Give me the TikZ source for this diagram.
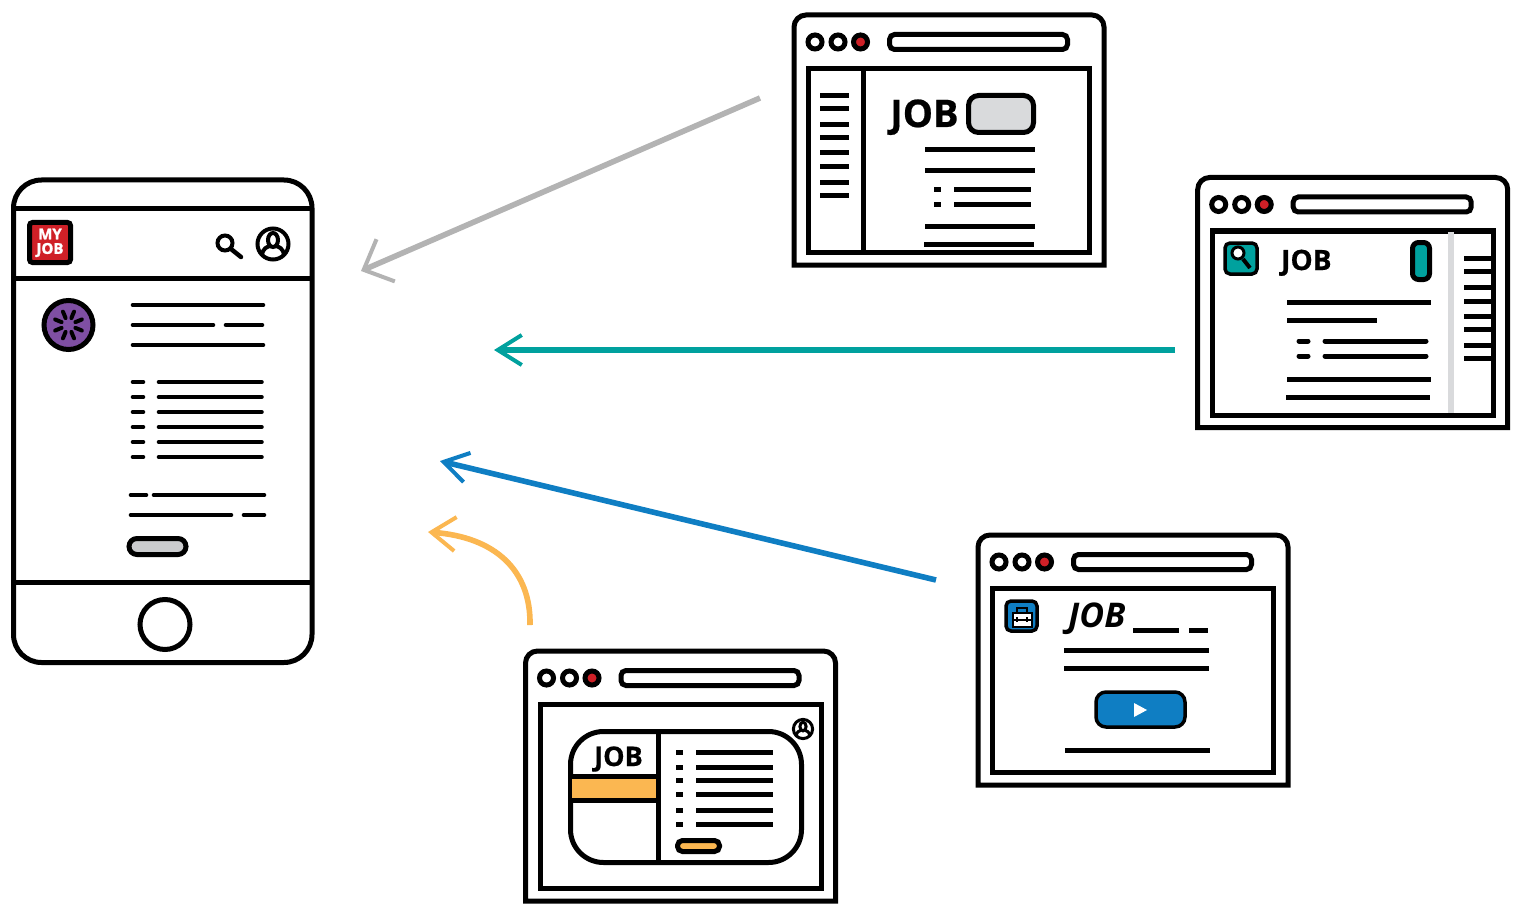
\documentclass[tikz,border=0pt]{standalone}
\usepackage{fontspec}
\setmainfont{Open Sans}[BoldFeatures={FakeBold=0.6}]
\newfontfamily\logofont{Open Sans}[BoldFeatures={FakeBold=1.6}]
\usetikzlibrary{arrows.meta}
\usetikzlibrary{calc}
\definecolor{redjob}{HTML}{CF2027}
\definecolor{greyjob}{HTML}{D9DADC}
\definecolor{greypill}{HTML}{CBCCCE}
\definecolor{greyarrow}{HTML}{B3B3B3}
\definecolor{tealjob}{HTML}{00A19E}
\definecolor{bluejob}{HTML}{0F7EC3}
\definecolor{orangejob}{HTML}{FBB751}
\definecolor{purplejob}{HTML}{7F4FA3}
\tikzset{
  frame/.style={draw=black, line width=5pt},
  thinframe/.style={draw=black, line width=3.5pt},
  txt/.style={line width=5pt},
  roundtxt/.style={line width=4.6pt, line cap=round},
  jobtext/.style={anchor=base west, inner sep=0pt, font=\bfseries\fontsize{#1}{#1}\selectfont},
  logotext/.style={inner sep=0pt, white, font=\logofont\bfseries\fontsize{15}{15}\selectfont},
  flow/.style={line width=5.6pt, -{Straight Barb[length=24pt, width=#1pt, line width=4pt]}},
  pics/browser/.style={code={
    \draw[frame, fill=white, rounded corners=12pt] (0,250) -- (0,0) -- (310,0) [sharp corners] -- (310,250) -- cycle;
    \foreach \dotx in {21, 44} \draw[black, line width=5pt, fill=white] (\dotx, 27) circle (7);
    \draw[black, line width=5pt, fill=redjob] (66.5, 27) circle (7);
    \draw[frame, rounded corners=5pt] (95.5, 19.5) rectangle (273.5, 34.5);
    \draw[frame] (14.5, 53.5) rectangle (295.5, 237.5);
  }},
  pics/avatar/.style={code={
    \draw (0, 0) circle (15.5);
    \draw (0, -4) ellipse (5 and 7);
    \draw (-11, 11) .. controls (-10, 4) and (-6, 3) .. (-3, 2);
    \draw (11, 11) .. controls (10, 4) and (6, 3) .. (3, 2);
  }}
}

\begin{document}
\begin{tikzpicture}[x=1pt, y=-1pt]
\useasboundingbox (0, 0) rectangle (1523, 912);

% phone
\draw[frame, rounded corners=28pt] (13.5, 180) rectangle (312, 662.5);
\draw[frame] (13.5, 209) -- (311.5, 209);
\draw[frame] (13.5, 278) -- (311.5, 278);
\draw[frame] (13.5, 582) -- (311.5, 582);
\draw[black, line width=5pt] (165, 624.5) circle (25);
\draw[black, fill=redjob, line width=5pt, rounded corners=3pt] (29.5, 222.5) rectangle (70.5, 262.5);
\node[logotext] (logomy) at (50, 234) {MY};
\node[logotext] (logojob) at (50, 250) {JOB};
\draw[black, line width=4pt] (225, 243) circle (7.5);
\draw[black, line width=4.5pt, line cap=round] (231, 249) -- (241, 257);
\pic[black, line width=4pt] at (273, 244) {avatar};
\draw[black, fill=purplejob, line width=5pt] (68.5, 325) circle (24.5);
\foreach \spoke in {22.5, 67.5, ..., 337.5}
  \draw[roundtxt, line width=4pt] ($(68.5, 325)+(\spoke:7.5)$) -- ($(68.5, 325)+(\spoke:14.5)$);
\draw[roundtxt] (133, 305) -- (263, 305);
\draw[roundtxt] (133, 325) -- (213, 325);
\draw[roundtxt] (226, 325) -- (262, 325);
\draw[roundtxt] (133, 345) -- (263, 345);
\foreach \rowy in {382, 397, 412, 427, 442, 457} {
  \draw[roundtxt] (133, \rowy) -- (143, \rowy);
  \draw[roundtxt] (159, \rowy) -- (261.5, \rowy);
}
\draw[roundtxt] (131, 495) -- (146, 495);
\draw[roundtxt] (154, 495) -- (264, 495);
\draw[roundtxt] (131, 515) -- (231, 515);
\draw[roundtxt] (244, 515) -- (264, 515);
\draw[frame, fill=greypill, rounded corners=8pt] (129, 538.5) rectangle (186, 554.5);

% window top
\pic at (794, 15) {browser};
\draw[frame] (863.5, 68) -- (863.5, 253);
\foreach \rowy in {96, 109, 125, 138, 153, 167, 183, 196}
  \draw[txt] (820, \rowy) -- (849, \rowy);
\node[jobtext=38] (jobtop) at (890, 127) {JOB};
\draw[frame, fill=greyjob, rounded corners=10pt] (968.5, 95.5) rectangle (1033.5, 132.5);
\draw[txt] (925, 150) -- (1035, 150);
\draw[txt] (925, 171) -- (1035, 171);
\foreach \rowy in {190, 205} {
  \draw[txt] (934, \rowy) -- (941, \rowy);
  \draw[txt] (954, \rowy) -- (1031, \rowy);
}
\draw[txt] (925, 226.5) -- (1035, 226.5);
\draw[txt] (924, 244) -- (1034, 244);

% window right
\pic at (1197.7, 177.5) {browser};
\draw[thinframe, fill=tealjob, rounded corners=5pt] (1225, 243) rectangle (1257, 274);
\draw[black, fill=white, line width=3pt] (1238, 253) circle (6);
\draw[black, line width=4pt] (1243, 259) -- (1250, 268);
\node[jobtext=28] (jobright) at (1281, 270) {JOB};
\draw[frame, fill=tealjob, rounded corners=6pt] (1412.5, 242.5) rectangle (1429.5, 279.5);
\draw[greyjob, line width=5.5pt] (1451, 232) -- (1451, 413);
\foreach \rowy in {258, 271, 287, 301, 316, 329, 345, 358}
  \draw[txt] (1464, \rowy) -- (1492, \rowy);
\draw[txt] (1287, 302) -- (1431, 302);
\draw[txt] (1287, 320) -- (1377, 320);
\foreach \rowy in {341, 356} {
  \draw[roundtxt, line width=5pt] (1299, \rowy) -- (1308, \rowy);
  \draw[roundtxt, line width=5pt] (1325, \rowy) -- (1426, \rowy);
}
\draw[txt] (1287, 379) -- (1431, 379);
\draw[txt] (1286, 397) -- (1430, 397);

% window video
\pic at (978, 535) {browser};
\draw[thinframe, fill=bluejob, rounded corners=5pt] (1006, 601) rectangle (1037, 631);
\draw[black, line width=2pt] (1017, 612) -- (1017, 608) -- (1027, 608) -- (1027, 612);
\draw[black, fill=white, line width=2pt] (1012.5, 612.5) rectangle (1031.5, 626.5);
\draw[black, line width=2pt] (1012.5, 619.5) -- (1031.5, 619.5);
\draw[black, line width=2pt] (1017, 617) -- (1017, 622);
\draw[black, line width=2pt] (1027, 617) -- (1027, 622);
\node[jobtext=34, font=\bfseries\itshape\fontsize{34}{34}\selectfont] (jobvideo) at (1068, 627) {JOB};
\draw[txt] (1133, 630.5) -- (1179, 630.5);
\draw[txt] (1189, 630.5) -- (1208, 630.5);
\draw[txt] (1064, 650) -- (1209, 650);
\draw[txt] (1064, 668) -- (1209, 668);
\draw[thinframe, fill=bluejob, rounded corners=10pt] (1096, 692) rectangle (1185, 727);
\fill[white] (1134, 703) -- (1147, 710) -- (1134, 717) -- cycle;
\draw[txt] (1065, 750) -- (1210, 750);

% window account
\pic at (525.5, 651) {browser};
\pic[black, line width=3pt, scale=0.62] at (803, 729) {avatar};
\draw[frame, rounded corners=33pt] (570.5, 731.5) rectangle (801.5, 862.5);
\fill[orangejob] (572, 777) rectangle (656, 799);
\draw[frame] (572, 776) -- (656, 776);
\draw[frame] (572, 800) -- (656, 800);
\draw[frame] (658, 731.5) -- (658, 862.5);
\node[jobtext=27] (jobcard) at (594, 766) {JOB};
\foreach \rowy in {752, 767, 780, 794, 810, 824} {
  \draw[txt] (676, \rowy) -- (683, \rowy);
  \draw[txt] (696, \rowy) -- (773, \rowy);
}
\draw[frame, fill=orangejob, rounded corners=5pt] (677.5, 840.5) rectangle (719.5, 851.5);

% arrows
\coordinate (grayfrom) at (760, 98);
\coordinate (grayto) at (361, 271);
\coordinate (tealfrom) at (1175, 350);
\coordinate (tealto) at (494, 350);
\coordinate (bluefrom) at (936, 580);
\coordinate (blueto) at (440, 461);
\coordinate (orangefrom) at (530, 625);
\coordinate (orangeto) at (428, 532);
\draw[flow=46, greyarrow] (grayfrom) -- (grayto);
\draw[flow=30, tealjob] (tealfrom) -- (tealto);
\draw[flow=30, bluejob] (bluefrom) -- (blueto);
\draw[flow=34, orangejob] (orangefrom) .. controls (531, 570) and (495, 537) .. (orangeto);
\end{tikzpicture}
\end{document}
